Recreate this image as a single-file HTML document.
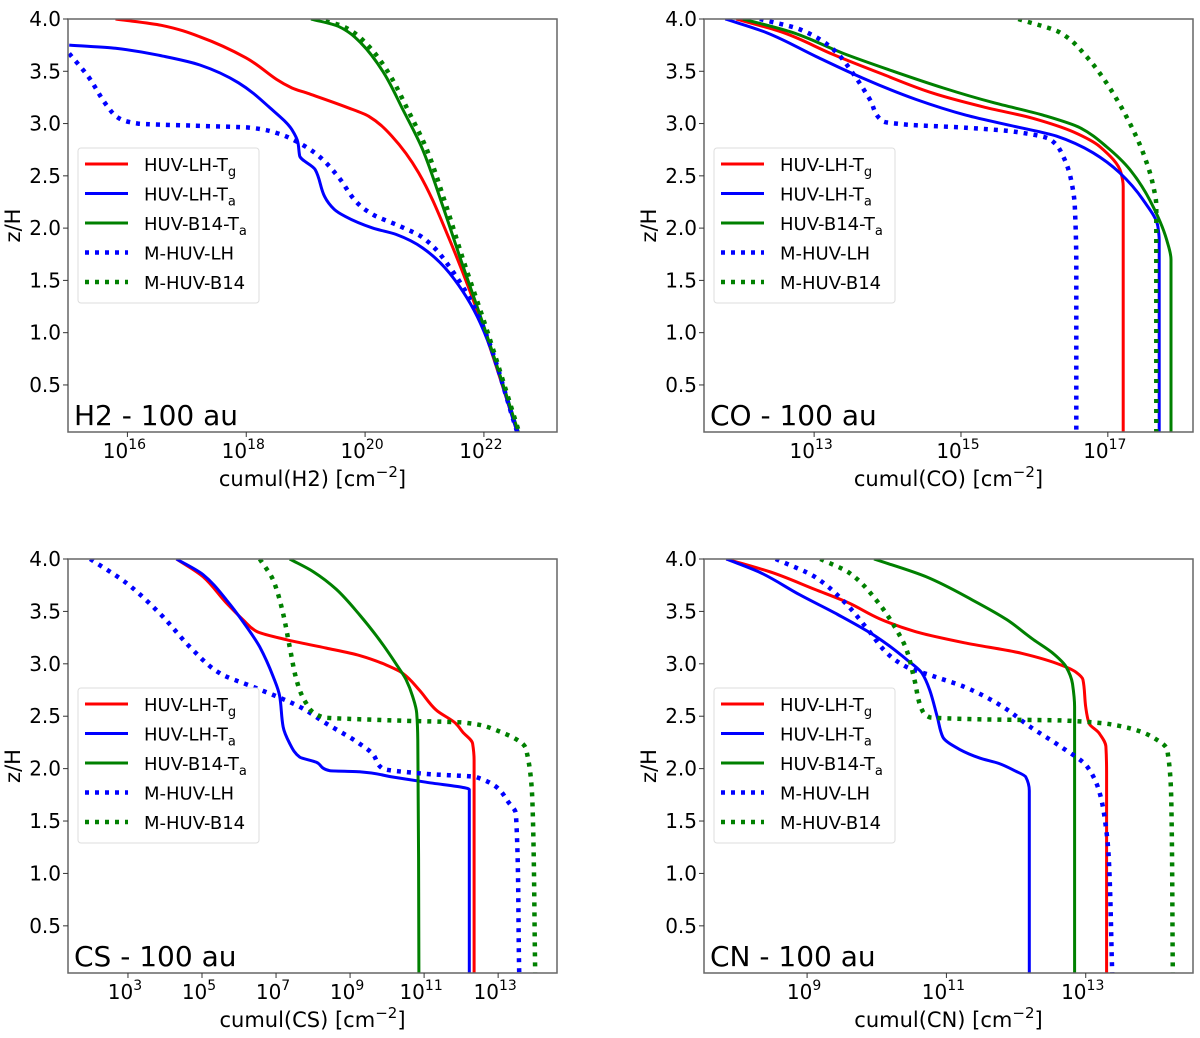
<!DOCTYPE html>
<html><head><meta charset="utf-8">
<style>
html,body{margin:0;padding:0;background:#fff;}
svg{display:block;font-family:"DejaVu Sans","Liberation Sans",sans-serif;}
</style></head>
<body>
<svg id="fig" width="1200" height="1038" viewBox="0 0 1200 1038" xmlns="http://www.w3.org/2000/svg"></svg>
<script>
// ---- data: [z/H, log10(column density)] pairs ----
const h2_lh_tg = [[4.0,15.80],[3.94,16.57],[3.83,17.22],[3.63,17.99],[3.34,18.77],[3.29,19.03],[3.16,19.67],[3.07,20.06],[2.88,20.45],[2.53,20.90],[1.89,21.42],[1.03,22.00],[0.05,22.56]];
const h2_lh_ta = [[3.75,15.02],[3.72,15.80],[3.64,16.64],[3.56,17.22],[3.39,17.87],[3.16,18.38],[2.94,18.77],[2.82,18.87],[2.69,18.90],[2.56,19.16],[2.30,19.32],[2.18,19.48],[2.11,19.67],[2.00,20.13],[1.94,20.52],[1.81,20.97],[1.57,21.42],[1.09,21.94],[0.05,22.56]];
const h2_b14_ta = [[4.0,19.09],[3.93,19.55],[3.77,19.93],[3.48,20.32],[3.13,20.64],[2.75,20.97],[2.24,21.29],[1.70,21.61],[1.06,22.00],[0.05,22.58]];
const h2_m_lh = [[3.67,15.02],[3.45,15.34],[3.16,15.67],[3.05,15.86],[3.00,16.18],[2.98,17.08],[2.96,18.06],[2.91,18.51],[2.83,18.84],[2.69,19.22],[2.49,19.55],[2.24,19.87],[2.13,20.13],[2.02,20.58],[1.91,20.97],[1.63,21.42],[1.12,21.94],[0.05,22.56]];
const h2_m_b14 = [[4.0,19.17],[3.93,19.63],[3.77,20.01],[3.48,20.40],[3.13,20.72],[2.75,21.04],[2.24,21.35],[1.70,21.65],[1.06,22.03],[0.05,22.59]];

const co_lh_tg = [[4.0,11.94],[3.87,12.58],[3.66,13.26],[3.47,13.94],[3.29,14.62],[3.16,15.30],[3.05,15.98],[2.92,16.53],[2.78,16.89],[2.53,17.18],[2.40,17.21],[0.05,17.21]];
const co_lh_ta = [[4.0,11.79],[3.87,12.35],[3.64,13.03],[3.42,13.71],[3.23,14.39],[3.08,15.07],[2.97,15.75],[2.88,16.30],[2.72,16.80],[2.53,17.16],[2.27,17.48],[2.02,17.68],[1.89,17.70],[0.05,17.70]];
const co_b14_ta = [[4.0,12.03],[3.87,12.71],[3.67,13.40],[3.50,14.08],[3.34,14.76],[3.20,15.44],[3.08,16.12],[2.96,16.62],[2.78,16.98],[2.56,17.30],[2.27,17.57],[1.89,17.80],[1.70,17.86],[0.05,17.86]];
const co_m_lh = [[4.0,12.26],[3.90,12.81],[3.71,13.26],[3.48,13.53],[3.23,13.76],[3.02,13.94],[2.99,14.26],[2.96,15.07],[2.92,15.75],[2.85,16.21],[2.69,16.39],[2.46,16.50],[2.21,16.55],[1.63,16.57],[0.05,16.57]];
const co_m_b14 = [[4.0,15.78],[3.87,16.35],[3.64,16.71],[3.39,16.98],[3.07,17.25],[2.72,17.48],[2.43,17.61],[2.21,17.66],[0.05,17.66]];

const cs_lh_tg = [[4.0,4.31],[3.83,5.03],[3.58,5.66],[3.42,6.11],[3.31,6.47],[3.23,7.28],[3.15,8.36],[3.08,9.25],[2.99,9.97],[2.91,10.42],[2.75,10.87],[2.56,11.32],[2.43,11.86],[2.35,12.04],[2.24,12.31],[2.08,12.35],[0.05,12.35]];
const cs_lh_ta = [[4.0,4.31],[3.85,5.03],[3.61,5.66],[3.40,6.11],[3.16,6.56],[2.88,6.92],[2.69,7.10],[2.40,7.19],[2.24,7.37],[2.11,7.64],[2.06,8.09],[1.98,8.45],[1.97,9.25],[1.92,10.15],[1.87,11.05],[1.80,12.22],[0.05,12.22]];
const cs_b14_ta = [[4.0,7.37],[3.88,8.00],[3.71,8.63],[3.47,9.25],[3.23,9.79],[3.00,10.24],[2.85,10.51],[2.69,10.69],[2.53,10.80],[2.27,10.83],[0.05,10.86]];
const cs_m_lh = [[4.0,1.98],[3.77,2.96],[3.48,3.86],[3.13,4.76],[2.91,5.48],[2.78,6.38],[2.69,7.01],[2.59,7.64],[2.43,8.36],[2.24,9.25],[2.14,9.61],[2.00,9.88],[1.95,11.05],[1.92,12.40],[1.67,13.30],[1.57,13.48],[0.05,13.57]];
const cs_m_b14 = [[4.0,6.56],[3.80,6.92],[3.48,7.19],[3.16,7.37],[2.85,7.55],[2.62,7.82],[2.49,8.27],[2.46,10.15],[2.44,12.04],[2.38,12.85],[2.19,13.75],[1.63,13.93],[0.05,14.00]];

const cn_lh_tg = [[4.0,7.84],[3.87,8.50],[3.71,9.11],[3.58,9.60],[3.43,10.04],[3.31,10.54],[3.20,11.26],[3.10,12.08],[2.99,12.64],[2.92,12.86],[2.85,12.96],[2.59,13.00],[2.43,13.05],[2.34,13.19],[2.21,13.29],[1.96,13.30],[0.05,13.30]];
const cn_lh_ta = [[4.0,7.84],[3.87,8.33],[3.66,8.89],[3.47,9.44],[3.26,9.99],[3.04,10.43],[2.91,10.65],[2.75,10.76],[2.49,10.87],[2.30,10.95],[2.18,11.20],[2.10,11.48],[2.05,11.75],[1.98,11.98],[1.92,12.14],[1.79,12.19],[0.05,12.19]];
const cn_b14_ta = [[4.0,9.96],[3.83,10.71],[3.61,11.37],[3.42,11.87],[3.23,12.25],[3.10,12.53],[2.97,12.72],[2.81,12.81],[2.59,12.84],[0.05,12.84]];
const cn_m_lh = [[4.0,8.55],[3.83,9.11],[3.58,9.55],[3.32,9.88],[3.10,10.15],[2.97,10.43],[2.88,10.82],[2.78,11.26],[2.59,11.81],[2.40,12.20],[2.21,12.64],[2.02,13.02],[1.79,13.19],[1.54,13.27],[1.16,13.33],[0.05,13.38]];
const cn_m_b14 = [[4.0,9.19],[3.87,9.60],[3.61,9.99],[3.35,10.26],[3.13,10.43],[2.85,10.54],[2.56,10.65],[2.49,10.76],[2.47,11.53],[2.46,12.64],[2.41,13.46],[2.30,13.96],[2.18,14.17],[1.63,14.23],[0.05,14.25]];

const yTicks = [0.5,1.0,1.5,2.0,2.5,3.0,3.5,4.0];
const h2Ticks = [16,18,20,22];
const coTicks = [13,15,17];
const csTicks = [3,5,7,9,11,13];
const cnTicks = [9,11,13];
const legendLabels = [["HUV-LH-T","g"],["HUV-LH-T","a"],["HUV-B14-T","a"],["M-HUV-LH",""],["M-HUV-B14",""]];

// ---- rendering ----
const NS="http://www.w3.org/2000/svg";
const svg=document.getElementById('fig');
function mk(tag,attrs,parent){const e=document.createElementNS(NS,tag);for(const k in attrs)e.setAttribute(k,attrs[k]);(parent||svg).appendChild(e);return e;}
const styles=[{c:"#ff0000",d:null,w:3},{c:"#0000ff",d:null,w:3},{c:"#008000",d:null,w:3},{c:"#0000ff",d:"4 6",w:4.5},{c:"#008000",d:"4 6",w:4.5}];
const seriesNames=['huv-lh-tg','huv-lh-ta','huv-b14-ta','m-huv-lh','m-huv-b14'];

// monotone cubic (Fritsch-Butland) of X as a function of Y: no overshoot
function smoothPath(pts){
  const n=pts.length;
  const h=[],d=[];
  for(let i=0;i<n-1;i++){h[i]=pts[i+1][1]-pts[i][1];d[i]=(pts[i+1][0]-pts[i][0])/h[i];}
  const m=[];
  m[0]=d[0];m[n-1]=d[n-2];
  for(let i=1;i<n-1;i++){
    if(d[i-1]*d[i]<=0){m[i]=0;}
    else{const h0=h[i-1],h1=h[i];m[i]=3*(h0+h1)/((2*h1+h0)/d[i-1]+(h1+2*h0)/d[i]);}
  }
  let s='M'+pts[0][0].toFixed(1)+' '+pts[0][1].toFixed(1);
  for(let i=0;i<n-1;i++){
    const t=h[i]/3;
    const c1x=pts[i][0]+m[i]*t,c1y=pts[i][1]+t;
    const c2x=pts[i+1][0]-m[i+1]*t,c2y=pts[i+1][1]-t;
    s+=' C'+c1x.toFixed(1)+' '+c1y.toFixed(1)+' '+c2x.toFixed(1)+' '+c2y.toFixed(1)+' '+pts[i+1][0].toFixed(1)+' '+pts[i+1][1].toFixed(1);
  }
  return s;
}

const panels=[
 {name:'h2',x0:68,x1:557,y0:19,y1:432,lx0:15.0,lx1:23.23,ticks:h2Ticks,label:"H2 - 100 au",xt:"cumul(H2) [cm",series:[h2_lh_tg,h2_lh_ta,h2_b14_ta,h2_m_lh,h2_m_b14]},
 {name:'co',x0:704,x1:1193,y0:19,y1:432,lx0:11.5,lx1:18.16,ticks:coTicks,label:"CO - 100 au",xt:"cumul(CO) [cm",series:[co_lh_tg,co_lh_ta,co_b14_ta,co_m_lh,co_m_b14]},
 {name:'cs',x0:68,x1:557,y0:559,y1:973,lx0:1.38,lx1:14.59,ticks:csTicks,label:"CS - 100 au",xt:"cumul(CS) [cm",series:[cs_lh_tg,cs_lh_ta,cs_b14_ta,cs_m_lh,cs_m_b14]},
 {name:'cn',x0:704,x1:1193,y0:559,y1:973,lx0:7.52,lx1:14.54,ticks:cnTicks,label:"CN - 100 au",xt:"cumul(CN) [cm",series:[cn_lh_tg,cn_lh_ta,cn_b14_ta,cn_m_lh,cn_m_b14]}
];
const zmin=0.05,zmax=4.0;

panels.forEach(p=>{
  const g=mk('g',{});
  
  
  const xs=v=>p.x0+(v-p.lx0)/(p.lx1-p.lx0)*(p.x1-p.x0);
  const ys=z=>p.y1-(z-zmin)/(zmax-zmin)*(p.y1-p.y0);
  const cid='clip-'+p.name;
  const cp=mk('clipPath',{id:cid},g);mk('rect',{x:p.x0,y:p.y0,width:p.x1-p.x0,height:p.y1-p.y0},cp);
  p.series.forEach((s,i)=>{
    const st=styles[i];
    const d=smoothPath(s.map(pt=>[xs(pt[1]),ys(pt[0])]));
    const a={d:d,fill:'none',stroke:st.c,'stroke-width':st.w,'stroke-linejoin':'round','clip-path':'url(#'+cid+')'};
    if(st.d)a['stroke-dasharray']=st.d;
    const path=mk('path',a,g);
    
    
  });
  const fr=mk('rect',{x:p.x0,y:p.y0,width:p.x1-p.x0,height:p.y1-p.y0,fill:'none',stroke:'#666','stroke-width':1.5},g);
  
  
  yTicks.forEach(t=>{
    const y=ys(t);
    mk('line',{x1:p.x0-5,x2:p.x0,y1:y,y2:y,stroke:'#333','stroke-width':1},g);
    const tx=mk('text',{x:p.x0-7,y:y+7,'text-anchor':'end','font-size':20,fill:'#000'},g);
    tx.textContent=t.toFixed(1);
    
    
  });
  p.ticks.forEach(t=>{
    const x=xs(t);
    mk('line',{x1:x,x2:x,y1:p.y1,y2:p.y1+5,stroke:'#333','stroke-width':1},g);
    const tx=mk('text',{x:x-3,y:p.y1+26,'text-anchor':'middle','font-size':20,fill:'#000'},g);
    tx.textContent='10';
    const sp=mk('tspan',{dy:-9,'font-size':14},tx);sp.textContent=String(t);
    
    
  });
  const xt=mk('text',{x:(p.x0+p.x1)/2,y:p.y1+54,'text-anchor':'middle','font-size':21,fill:'#000'},g);
  xt.textContent=p.xt;
  const s1=mk('tspan',{dy:-9,'font-size':15},xt);s1.textContent='\u22122';
  const s2=mk('tspan',{dy:9},xt);s2.textContent=']';
  
  
  const yt=mk('text',{x:0,y:0,'text-anchor':'middle','font-size':21,fill:'#000',transform:'translate('+(p.x0-48)+','+((p.y0+p.y1)/2)+') rotate(-90)'},g);
  yt.textContent='z/H';
  
  
  const pl=mk('text',{x:p.x0+6,y:p.y1-7,'font-size':28,fill:'#000'},g);
  pl.textContent=p.label;
  
  
  const lg=mk('g',{},g);
  
  
  const lx=p.x0+10, ly=p.y0+129;
  mk('rect',{x:lx,y:ly,width:181,height:155,rx:3,fill:'#fff',stroke:'#ddd','stroke-width':1},lg);
  legendLabels.forEach((lab,i)=>{
    const yy=ly+16+i*29.5;
    const st=styles[i];
    const a={x1:lx+7,x2:lx+50,y1:yy,y2:yy,stroke:st.c,'stroke-width':st.w};
    if(st.d)a['stroke-dasharray']=st.d;
    mk('line',a,lg);
    const t=mk('text',{x:lx+66,y:yy+7,'font-size':18,fill:'#000'},lg);
    t.textContent=lab[0];
    if(lab[1]){const sb=mk('tspan',{dy:5,'font-size':13},t);sb.textContent=lab[1];}
    
    
  });
});
</script>
</body></html>
